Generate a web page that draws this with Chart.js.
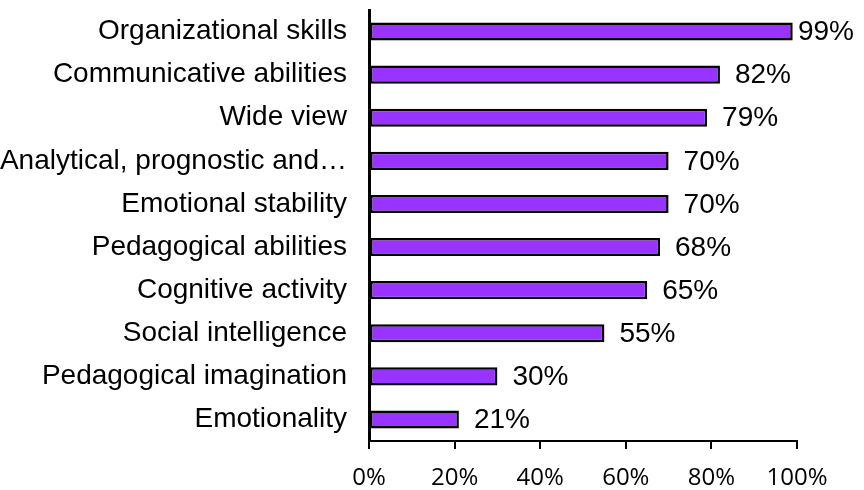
<!DOCTYPE html>
<html>
<head>
<meta charset="utf-8">
<script src="https://cdn.jsdelivr.net/npm/chart.js@4/dist/chart.umd.min.js"></script>
<style>
  html, body { margin: 0; padding: 0; background: #ffffff; }
  #wrap { width: 864px; height: 490px; position: relative; }
</style>
</head>
<body>
<div id="wrap"><canvas id="c" width="864" height="490"></canvas></div>
<script>
const categories = [
  "Organizational skills",
  "Communicative abilities",
  "Wide view",
  "Analytical, prognostic and…",
  "Emotional stability",
  "Pedagogical abilities",
  "Cognitive activity",
  "Social intelligence",
  "Pedagogical imagination",
  "Emotionality"
];
const values = [99, 82, 79, 70, 70, 68, 65, 55, 30, 21];
const xTicks = [0, 20, 40, 60, 80, 100];

const labelFont = "'Liberation Sans', Arial, sans-serif";
const tickFont = "'Open Sans', 'Liberation Sans', sans-serif";

const valueLabels = {
  id: 'valueLabels',
  afterDatasetsDraw(chart) {
    const ctx = chart.ctx;
    const meta = chart.getDatasetMeta(0);
    ctx.save();
    ctx.font = "28px " + labelFont;
    ctx.fillStyle = '#000';
    ctx.textAlign = 'left';
    ctx.textBaseline = 'middle';
    meta.data.forEach((bar, i) => {
      const txt = values[i] + '%';
      const w = ctx.measureText(txt).width;
      let x = bar.x + 15;
      if (x + w > 854) x = 854 - w;
      ctx.fillText(txt, x, bar.y + 1);
    });
    ctx.restore();
  }
};

new Chart(document.getElementById('c'), {
  type: 'bar',
  data: {
    labels: categories,
    datasets: [{
      data: values,
      backgroundColor: '#9933ff',
      borderColor: '#000000',
      borderWidth: 2.5,
      borderSkipped: false,
      barPercentage: 0.42,
      categoryPercentage: 1.0
    }]
  },
  options: {
    indexAxis: 'y',
    responsive: false,
    animation: false,
    layout: { padding: { top: 10, right: 67, left: 0, bottom: 0 } },
    plugins: { legend: { display: false }, tooltip: { enabled: false } },
    scales: {
      x: {
        min: 0, max: 100,
        afterBuildTicks(scale) { scale.ticks = xTicks.map(v => ({ value: v })); },
        afterFit(scale) { scale.height = 49; scale.paddingLeft = 0; scale.paddingRight = 0; },
        grid: { display: true, drawOnChartArea: false, drawTicks: true, tickLength: 8, color: '#000', lineWidth: 2 },
        border: { display: true, color: '#000', width: 2 },
        ticks: {
          padding: 15,
          color: '#000',
          font: { family: tickFont, size: 24 },
          callback: (v) => v + '%'
        }
      },
      y: {
        afterFit(scale) { scale.width = 369; scale.paddingTop = 0; scale.paddingBottom = 0; },
        grid: { display: false },
        border: { display: true, color: '#000', width: 3 },
        ticks: {
          padding: 14,
          color: '#000',
          autoSkip: false,
          font: { family: labelFont, size: 28 }
        }
      }
    }
  },
  plugins: [valueLabels]
});
</script>
</body>
</html>
